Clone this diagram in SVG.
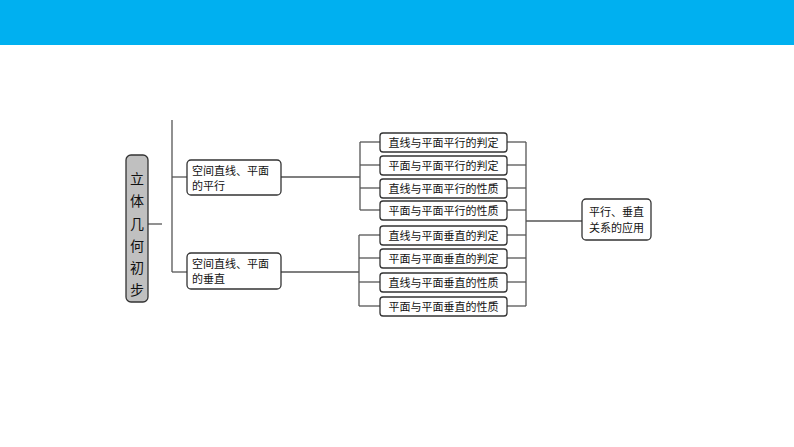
<svg xmlns="http://www.w3.org/2000/svg" width="794" height="447" viewBox="0 0 794 447">
<style>
.b{fill:#fff;stroke:#333;stroke-width:1.3}
.t{font-family:"Noto Sans CJK SC","Liberation Serif",serif;font-size:11px;fill:#111}
.c line{stroke:#555;stroke-width:1.3}
</style>
<rect width="794" height="447" fill="#fff"/>
<rect width="794" height="45" fill="#00b0f0"/>
<g class="c">
<line x1="148" y1="224" x2="162" y2="224"/>
<line x1="172" y1="120" x2="172" y2="272"/>
<line x1="172" y1="177" x2="187" y2="177"/>
<line x1="172" y1="272" x2="187" y2="272"/>
<line x1="281" y1="177" x2="360" y2="177"/>
<line x1="281" y1="272" x2="359" y2="272"/>
<line x1="360" y1="142" x2="360" y2="210"/>
<line x1="359" y1="235" x2="359" y2="306"/>
<line x1="360" y1="142" x2="380" y2="142"/><line x1="360" y1="165" x2="380" y2="165"/>
<line x1="360" y1="188" x2="380" y2="188"/><line x1="360" y1="210" x2="380" y2="210"/>
<line x1="359" y1="235" x2="380" y2="235"/><line x1="359" y1="258" x2="380" y2="258"/>
<line x1="359" y1="282" x2="380" y2="282"/><line x1="359" y1="306" x2="380" y2="306"/>
<line x1="526" y1="142" x2="526" y2="306"/>
<line x1="507" y1="142" x2="526" y2="142"/><line x1="507" y1="165" x2="526" y2="165"/>
<line x1="507" y1="188" x2="526" y2="188"/><line x1="507" y1="210" x2="526" y2="210"/>
<line x1="507" y1="235" x2="526" y2="235"/><line x1="507" y1="258" x2="526" y2="258"/>
<line x1="507" y1="282" x2="526" y2="282"/><line x1="507" y1="306" x2="526" y2="306"/>
<line x1="526" y1="221" x2="582" y2="221"/>
</g>
<g id="root"><rect x="126" y="155" width="22" height="147" rx="5" fill="#c0c0c0" stroke="#333" stroke-width="1.3"/>
<text class="t" style="font-size:14px" text-anchor="middle"><tspan x="137" y="184">立</tspan><tspan x="137" y="206">体</tspan><tspan x="137" y="229">几</tspan><tspan x="137" y="251">何</tspan><tspan x="137" y="273">初</tspan><tspan x="137" y="295">步</tspan></text></g>
<g id="par"><rect class="b" x="187" y="160" width="94" height="35" rx="4"/><text class="t"><tspan x="192" y="175">空间直线、平面</tspan><tspan x="192" y="190">的平行</tspan></text></g>
<g id="perp"><rect class="b" x="187" y="253" width="94" height="36" rx="4"/><text class="t"><tspan x="192" y="268">空间直线、平面</tspan><tspan x="192" y="283">的垂直</tspan></text></g>
<g id="n1"><rect class="b" x="380" y="133" width="127" height="19" rx="3"/><text class="t" x="443.5" y="146.5" text-anchor="middle">直线与平面平行的判定</text></g>
<g id="n2"><rect class="b" x="380" y="156" width="127" height="19" rx="3"/><text class="t" x="443.5" y="169.5" text-anchor="middle">平面与平面平行的判定</text></g>
<g id="n3"><rect class="b" x="380" y="179" width="127" height="19" rx="3"/><text class="t" x="443.5" y="192.5" text-anchor="middle">直线与平面平行的性质</text></g>
<g id="n4"><rect class="b" x="380" y="201" width="127" height="19" rx="3"/><text class="t" x="443.5" y="214.5" text-anchor="middle">平面与平面平行的性质</text></g>
<g id="n5"><rect class="b" x="380" y="226" width="127" height="19" rx="3"/><text class="t" x="443.5" y="239.5" text-anchor="middle">直线与平面垂直的判定</text></g>
<g id="n6"><rect class="b" x="380" y="249" width="127" height="19" rx="3"/><text class="t" x="443.5" y="262.5" text-anchor="middle">平面与平面垂直的判定</text></g>
<g id="n7"><rect class="b" x="380" y="273" width="127" height="19" rx="3"/><text class="t" x="443.5" y="286.5" text-anchor="middle">直线与平面垂直的性质</text></g>
<g id="n8"><rect class="b" x="380" y="297" width="127" height="19" rx="3"/><text class="t" x="443.5" y="310.5" text-anchor="middle">平面与平面垂直的性质</text></g>
<g id="app"><rect class="b" x="582" y="199" width="69" height="41" rx="4"/><text class="t" text-anchor="middle"><tspan x="616.5" y="216">平行、垂直</tspan><tspan x="616.5" y="232">关系的应用</tspan></text></g>
</svg>
